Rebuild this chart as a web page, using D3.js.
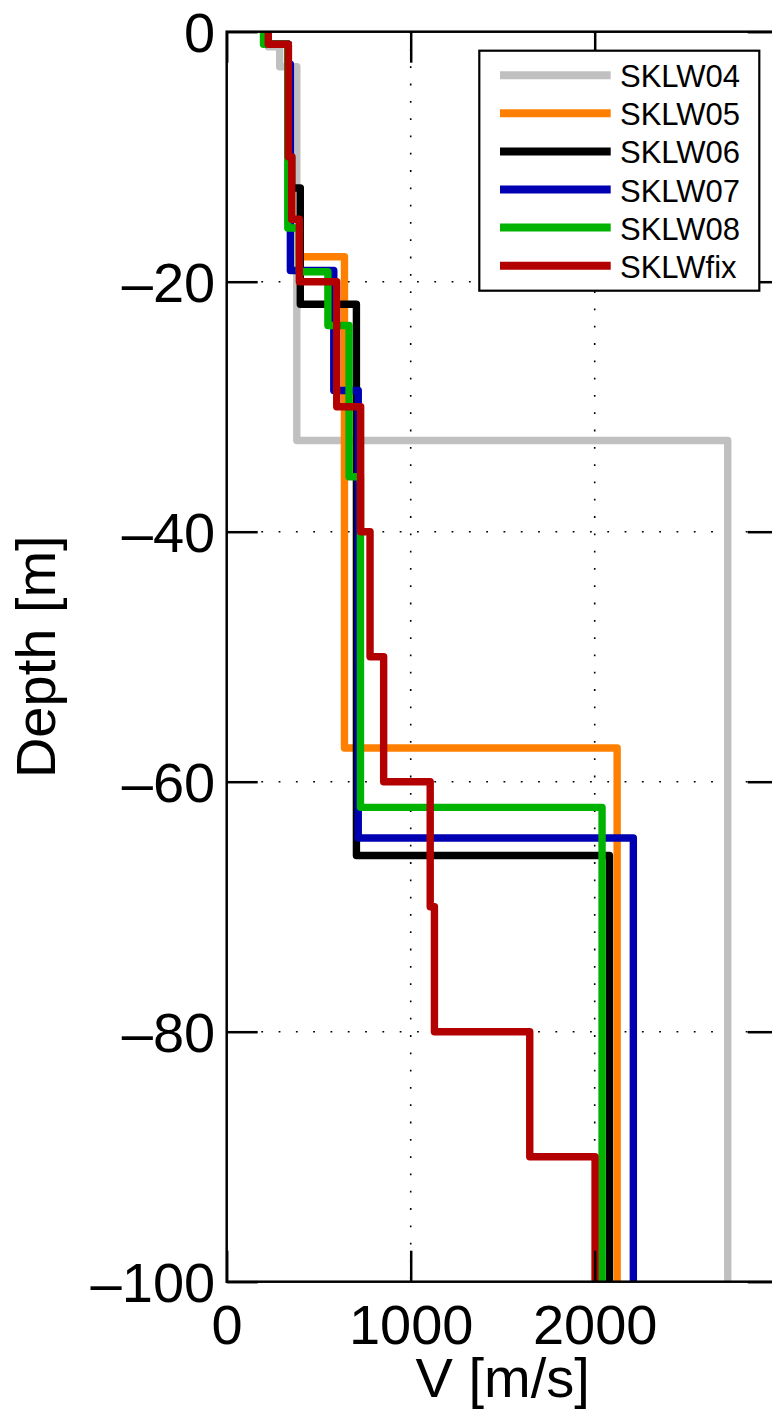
<!DOCTYPE html>
<html>
<head>
<meta charset="utf-8">
<script src="https://cdn.jsdelivr.net/npm/d3@7"></script>
<style>
  html, body { margin: 0; padding: 0; background: #fff; }
  svg { display: block; }
  text { font-family: "Liberation Sans", Arial, Helvetica, sans-serif; fill: #000; }
</style>
</head>
<body>
<svg id="chart" width="772" height="1421"></svg>
<script>
// Shear-wave velocity profiles: layer tops/bottoms (elevation, m) and layer velocities (m/s)
const seriesNames = ["SKLW04", "SKLW05", "SKLW06", "SKLW07", "SKLW08", "SKLWfix"];
const seriesColors = ["#c0c0c0", "#ff8000", "#000000", "#0000b3", "#00b300", "#b30000"];

const sklw04Depth = [0, -1.2, -2.8, -32.7, -100];
const sklw04Vel   = [226, 288, 381, 2723];

const sklw05Depth = [0, -1, -10, -15, -18, -57.3, -100];
const sklw05Vel   = [226, 335, 353, 395, 640, 2122];

const sklw06Depth = [0, -1, -10, -12.5, -21.8, -65.9, -100];
const sklw06Vel   = [226, 335, 353, 400, 705, 2080];

const sklw07Depth = [0, -1, -2.6, -19.1, -28.7, -64.5, -100];
const sklw07Vel   = [226, 335, 346, 582, 715, 2210];

const sklw08Depth = [0, -1, -15.7, -19.2, -23.5, -35.6, -62.05, -100];
const sklw08Vel   = [200, 332, 395, 550, 665, 727, 2040];

const sklwfixDepth = [0, -1, -10, -15, -20, -30, -40, -50, -60, -70, -80, -90, -100];
const sklwfixVel   = [226, 335, 353, 395, 598, 728, 779, 853, 1106, 1129, 1647, 2002];

const xTicks = [0, 1000, 2000];
const yTicks = [0, -20, -40, -60, -80, -100];
const xGrid = [1000, 2000];
const yGrid = [-20, -40, -60, -80];

const profiles = [
  [sklw04Depth, sklw04Vel],
  [sklw05Depth, sklw05Vel],
  [sklw06Depth, sklw06Vel],
  [sklw07Depth, sklw07Vel],
  [sklw08Depth, sklw08Vel],
  [sklwfixDepth, sklwfixVel]
];

// ---- layout ----
const pLeft = 226.7, pRight = 778.7, pTop = 31.7, pBottom = 1281.7;
const tickLen = 31;
const axisW = 2.5;
const fontSize = 56;

const svg = d3.select("#chart");
const x = d3.scaleLinear().domain([0, 3000]).range([pLeft, pRight]);
const y = d3.scaleLinear().domain([0, -100]).range([pTop, pBottom]);

const fmt = d => d < 0 ? "\u2013" + Math.abs(d) : String(d);

// dotted grid
const grid = svg.append("g")
  .attr("stroke", "#000").attr("stroke-width", 1.6)
  .attr("stroke-dasharray", "1.8,15.5");
grid.selectAll("line.gx").data(xGrid).join("line")
  .attr("class", "gx")
  .attr("x1", d => x(d)).attr("x2", d => x(d))
  .attr("y1", pTop).attr("y2", pBottom);
grid.selectAll("line.gy").data(yGrid).join("line")
  .attr("class", "gy")
  .attr("x1", pLeft).attr("x2", pRight)
  .attr("y1", d => y(d)).attr("y2", d => y(d));

// profile step lines
svg.append("defs").append("clipPath").attr("id", "plotClip")
  .append("rect").attr("x", pLeft).attr("y", pTop)
  .attr("width", pRight - pLeft).attr("height", pBottom - pTop);

function stepPoints(depths, vels) {
  const pts = [];
  vels.forEach((v, i) => {
    pts.push([v, depths[i]]);
    pts.push([v, depths[i + 1]]);
  });
  return pts;
}

const line = d3.line().x(p => x(p[0])).y(p => y(p[1]));

svg.append("g").attr("clip-path", "url(#plotClip)")
  .selectAll("path").data(profiles).join("path")
  .attr("d", p => line(stepPoints(p[0], p[1])))
  .attr("fill", "none")
  .attr("stroke", (p, i) => seriesColors[i])
  .attr("stroke-width", 7.4)
  .attr("stroke-linejoin", "round")
  .attr("stroke-linecap", "butt");

// axes with inward ticks on all four sides
function styleAxis(g) {
  g.select(".domain").remove();
  g.selectAll(".tick line").attr("stroke", "#000").attr("stroke-width", axisW);
}

const axLeft = svg.append("g").attr("transform", `translate(${pLeft},0)`)
  .call(d3.axisLeft(y).tickValues(yTicks).tickSize(-tickLen).tickPadding(11.5).tickFormat(fmt))
  .call(styleAxis);
axLeft.selectAll("text").attr("font-size", fontSize).attr("dy", "0.36em")
  .attr("fill", "#000")
  .style("font-family", '"Liberation Sans", Arial, Helvetica, sans-serif');

svg.append("g").attr("transform", `translate(${pRight},0)`)
  .call(d3.axisRight(y).tickValues(yTicks).tickSize(-tickLen).tickFormat(""))
  .call(styleAxis);

const axBottom = svg.append("g").attr("transform", `translate(0,${pBottom})`)
  .call(d3.axisBottom(x).tickValues(xTicks).tickSize(-tickLen).tickFormat(fmt))
  .call(styleAxis);
axBottom.selectAll("text").attr("font-size", fontSize).attr("y", 62.3).attr("dy", null)
  .attr("fill", "#000")
  .style("font-family", '"Liberation Sans", Arial, Helvetica, sans-serif');

svg.append("g").attr("transform", `translate(0,${pTop})`)
  .call(d3.axisTop(x).tickValues(xTicks).tickSize(-tickLen).tickFormat(""))
  .call(styleAxis);

// axes box
svg.append("rect")
  .attr("x", pLeft).attr("y", pTop)
  .attr("width", pRight - pLeft).attr("height", pBottom - pTop)
  .attr("fill", "none").attr("stroke", "#000").attr("stroke-width", axisW);

// axis titles
svg.append("text")
  .attr("transform", `translate(55,${(pTop + pBottom) / 2}) rotate(-90)`)
  .attr("text-anchor", "middle").attr("font-size", fontSize)
  .text("Depth [m]");
svg.append("text")
  .attr("x", (pLeft + pRight) / 2).attr("y", 1397)
  .attr("text-anchor", "middle").attr("font-size", fontSize)
  .text("V [m/s]");

// legend
const lg = svg.append("g");
lg.append("rect")
  .attr("x", 479.3).attr("y", 50.7).attr("width", 280).attr("height", 240)
  .attr("fill", "#fff").attr("stroke", "#000").attr("stroke-width", 2.2);
const rowY = i => 75.3 + i * 38.07;
lg.selectAll("line.item").data(seriesNames).join("line")
  .attr("class", "item")
  .attr("x1", 500).attr("x2", 610.7)
  .attr("y1", (d, i) => rowY(i)).attr("y2", (d, i) => rowY(i))
  .attr("stroke", (d, i) => seriesColors[i]).attr("stroke-width", 8);
lg.selectAll("text.item").data(seriesNames).join("text")
  .attr("class", "item")
  .attr("x", 620).attr("y", (d, i) => rowY(i) + 12)
  .attr("font-size", 31)
  .text(d => d);
</script>
</body>
</html>
